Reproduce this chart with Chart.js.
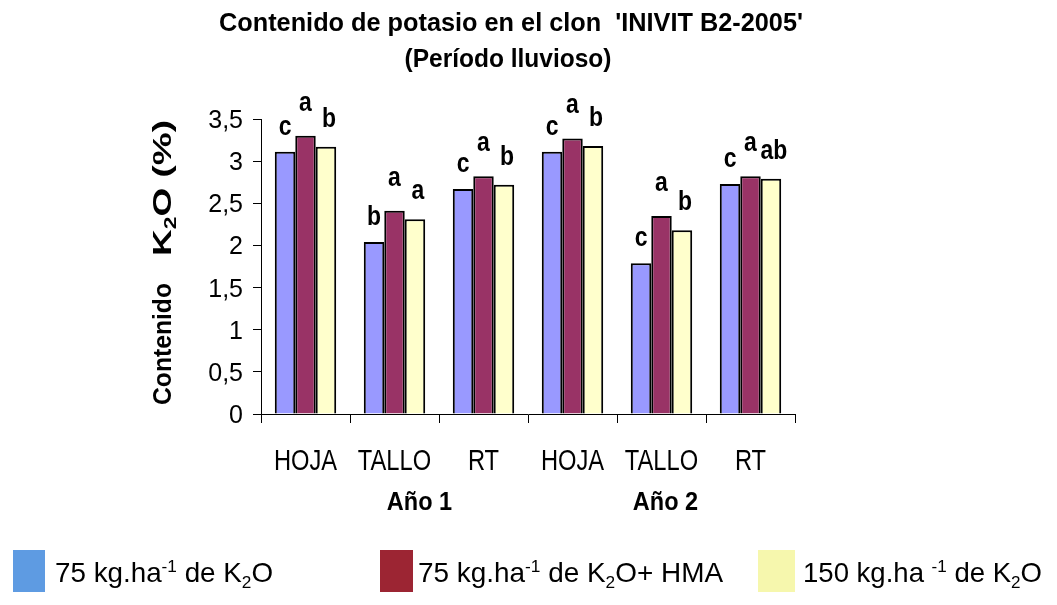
<!DOCTYPE html>
<html><head><meta charset="utf-8">
<script src="https://cdn.jsdelivr.net/npm/chart.js@4.4.1/dist/chart.umd.min.js"></script>
<style>html,body{margin:0;padding:0;background:#fff;}#wrap{width:1057px;height:605px;}</style>
</head><body><div id="wrap"><canvas id="c" width="1057" height="605"></canvas></div>
<script>
// ---- data ----
const categories = ['HOJA', 'TALLO', 'RT', 'HOJA', 'TALLO', 'RT'];
const groupLabels = ['Año 1', 'Año 2'];
const seriesNames = ['75 kg.ha-1 de K2O', '75 kg.ha-1 de K2O+ HMA', '150 kg.ha -1 de K2O'];
const dose75 = [3.11, 2.04, 2.67, 3.11, 1.79, 2.73];
const dose75HMA = [3.30, 2.41, 2.82, 3.27, 2.35, 2.82];
const dose150 = [3.17, 2.31, 2.72, 3.18, 2.18, 2.79];
const letters75 = ['c', 'b', 'c', 'c', 'c', 'c'];
const letters75HMA = ['a', 'a', 'a', 'a', 'a', 'a'];
const letters150 = ['b', 'a', 'b', 'b', 'b', 'ab'];
const yMin = 0, yMax = 3.5, yStep = 0.5;

const FAM = '"Liberation Sans", Arial, sans-serif';
const barColors = ['#9999ff', '#993366', '#ffffcc'];
const legendColors = ['#5e9be2', '#9c2533', '#f6f7ad'];
const letterSets = [letters75, letters75HMA, letters150];
const letterLift = [24, 32, 27];

function setFont(ctx, size, weight) { ctx.font = weight + ' ' + size + 'px ' + FAM; }
function richWidth(ctx, parts, size, weight) {
  let w = 0;
  for (const p of parts) { setFont(ctx, p.s ? size * 0.62 : size, weight); w += ctx.measureText(p.t).width; }
  return w;
}
function drawRich(ctx, parts, x, y, size, weight, align, target, sx) {
  const nat = richWidth(ctx, parts, size, weight);
  const k = target ? target / nat : (sx || 1);
  const tot = nat * k;
  const start = align === 'center' ? x - tot / 2 : align === 'right' ? x - tot : x;
  ctx.save();
  ctx.translate(start, y); ctx.scale(k, 1);
  ctx.textAlign = 'left'; ctx.textBaseline = 'alphabetic'; ctx.fillStyle = '#000';
  let cx = 0;
  for (const p of parts) {
    setFont(ctx, p.s ? size * 0.62 : size, weight);
    const dy = p.s === 'sup' ? -size * 0.36 : p.s === 'sub' ? size * 0.2 : 0;
    ctx.fillText(p.t, cx, dy);
    cx += ctx.measureText(p.t).width;
  }
  ctx.restore();
}
function legendParts(name) {
  const parts = [];
  const re = /(-1)|(K)(2)(O)/g;
  let last = 0, m;
  while ((m = re.exec(name)) !== null) {
    if (m.index > last) parts.push({ t: name.slice(last, m.index) });
    if (m[1]) parts.push({ t: '-1', s: 'sup' });
    else { parts.push({ t: 'K' }); parts.push({ t: '2', s: 'sub' }); parts.push({ t: 'O' }); }
    last = re.lastIndex;
  }
  if (last < name.length) parts.push({ t: name.slice(last) });
  return parts;
}

const annot = {
  id: 'annot',
  afterDatasetsDraw(chart) {
    const ctx = chart.ctx;
    chart.data.datasets.forEach((ds, i) => {
      const meta = chart.getDatasetMeta(i);
      meta.data.forEach((el, j) => {
        drawRich(ctx, [{ t: letterSets[i][j] }], el.x + (i === 2 ? 3 : 0), el.y - letterLift[i] + 7, 27, 'bold', 'center', null, 0.85);
      });
    });
  },
  afterDraw(chart) {
    const ctx = chart.ctx;
    const xs = chart.scales.x, ys = chart.scales.y;
    drawRich(ctx, [{ t: "Contenido de potasio en el clon  'INIVIT B2-2005'" }], 511, 31, 25, 'bold', 'center', 584);
    drawRich(ctx, [{ t: '(Período lluvioso)' }], 508, 67, 25, 'bold', 'center', 207);
    ys.ticks.forEach(t => {
      const py = ys.getPixelForValue(t.value);
      drawRich(ctx, [{ t: String(t.value).replace('.', ',') }], 243, py + 9, 25, 'normal', 'right');
    });
    categories.forEach((c, i) => {
      drawRich(ctx, [{ t: c }], xs.getPixelForValue(i), 470, 30, 'normal', 'center', null, 0.79);
    });
    const g1 = xs.getPixelForValue(1) + 25, g2 = xs.getPixelForValue(4) + 4;
    drawRich(ctx, [{ t: groupLabels[0] }], g1, 510, 25, 'bold', 'center', null, 0.94);
    drawRich(ctx, [{ t: groupLabels[1] }], g2, 510, 25, 'bold', 'center', null, 0.94);
    ctx.save();
    ctx.translate(171, 0);
    ctx.rotate(-Math.PI / 2);
    drawRich(ctx, [{ t: 'Contenido' }], -344, 0, 26, 'bold', 'center', 122);
    drawRich(ctx, [{ t: 'K' }, { t: '2', s: 'sub' }, { t: 'O (%)' }], -188, 0, 26, 'bold', 'center', 136);
    ctx.restore();
    const sq = [[13, 32], [380, 33], [758, 37]];
    const tx = [[55, 218], [418, 305], [803, 239]];
    seriesNames.forEach((n, i) => {
      ctx.fillStyle = legendColors[i];
      ctx.fillRect(sq[i][0], 550, sq[i][1], 42);
      drawRich(ctx, legendParts(n), tx[i][0], 582, 28, 'normal', 'left', tx[i][1]);
    });
  }
};

new Chart(document.getElementById('c'), {
  type: 'bar',
  data: {
    labels: categories,
    datasets: [dose75, dose75HMA, dose150].map((d, i) => ({
      label: seriesNames[i], data: d,
      backgroundColor: barColors[i], borderColor: '#000', borderWidth: 2, borderSkipped: 'start',
      categoryPercentage: 0.69, barPercentage: 1.0
    }))
  },
  options: {
    responsive: false, animation: false, devicePixelRatio: 1,
    layout: { padding: { left: 0, right: 262, top: 119, bottom: 0 } },
    plugins: { legend: { display: false }, tooltip: { enabled: false }, title: { display: false } },
    scales: {
      x: {
        grid: { offset: true, drawOnChartArea: false, color: '#000', tickLength: 9, lineWidth: 1 },
        border: { color: '#000', width: 1 },
        ticks: { color: 'rgba(0,0,0,0)', font: { family: FAM, size: 12 } },
        afterFit(s) { s.height = 191; }
      },
      y: {
        min: yMin, max: yMax,
        ticks: { stepSize: yStep, color: 'rgba(0,0,0,0)', font: { family: FAM, size: 12 } },
        grid: { drawOnChartArea: false, color: '#000', tickLength: 8, lineWidth: 1 },
        border: { color: '#000', width: 1 },
        afterFit(s) { s.width = 261; }
      }
    }
  },
  plugins: [annot]
});
</script>
</body></html>
